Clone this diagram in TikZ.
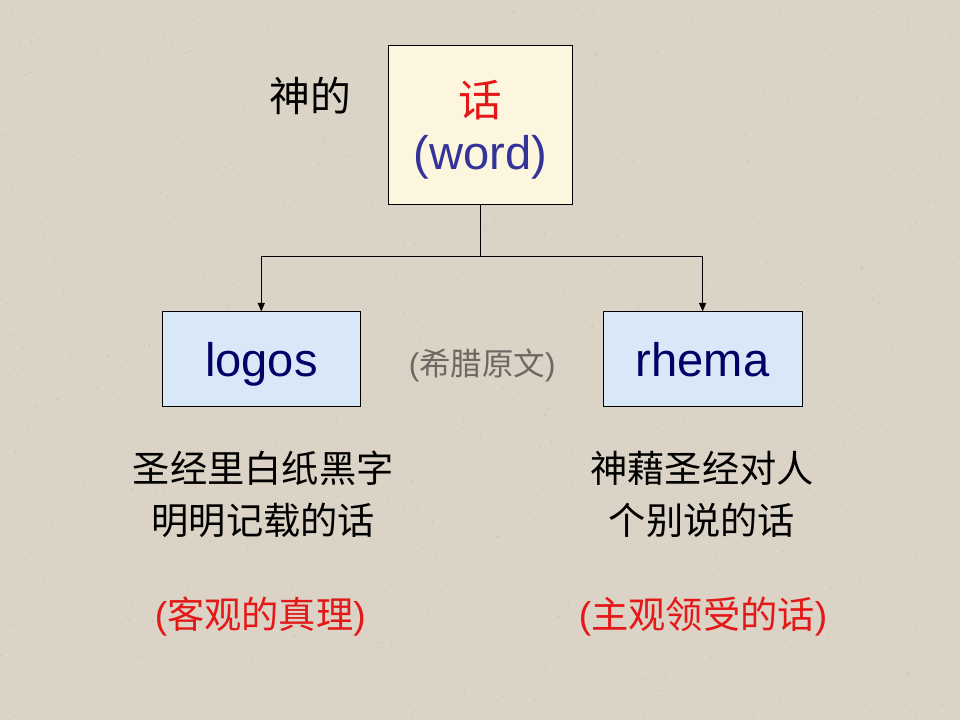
\documentclass[tikz,border=0pt]{standalone}
\usepackage{fontspec}
\setmainfont{Liberation Sans}
\newfontfamily\cjk{Noto Sans CJK SC}
\usetikzlibrary{arrows.meta}
\definecolor{paper}{RGB}{219,211,197}
\definecolor{speck}{RGB}{196,187,172}
\definecolor{cream}{RGB}{253,246,222}
\definecolor{paleblue}{RGB}{216,232,249}
\definecolor{wordred}{RGB}{228,24,24}
\definecolor{wordblue}{RGB}{51,51,153}
\definecolor{navy}{RGB}{0,0,102}
\definecolor{greytext}{RGB}{108,104,98}
\tikzset{
	termbox/.style={draw=black, line width=0.6pt, inner sep=0pt},
	termtext/.style={text=navy, font=\fontsize{33.5}{40}\selectfont, text height=25pt, text depth=0pt},
	link/.style={line width=0.6pt, -{Triangle[length=6pt,width=5pt]}},
	note/.style={font=\cjk\fontsize{26.5}{32}\selectfont, align=center}
}

\begin{document}
\begin{tikzpicture}[x=0.025cm, y=-0.025cm]
		%%%%% START %%%%%
		
		\fill[paper] (0, 0) rectangle (960, 720);
		\pgfmathsetseed{11}
		\foreach \i in {1,...,700}
			\fill[speck] (960*rnd, 720*rnd) circle (0.7);
		
		\node[termbox, fill=cream, minimum width=4.6cm, minimum height=3.975cm] (word) at (480, 124.5) {};
		\node[text=wordred, font=\cjk\fontsize{31}{36}\selectfont] (wordzh) at (480, 100) {话};
		\node[text=wordblue, font=\fontsize{33.5}{40}\selectfont] (worden) at (480, 157) {(word)};
		\node[font=\cjk\fontsize{29}{34}\selectfont] (godsays) at (310, 96) {神的};
		
		\node[termbox, fill=paleblue, minimum width=4.95cm, minimum height=2.375cm, termtext] (logos) at (261, 359.5) {logos};
		\node[termbox, fill=paleblue, minimum width=4.975cm, minimum height=2.375cm, termtext] (rhema) at (702.5, 359.5) {rhema};
		\node[text=greytext, font=\fontsize{22.4}{28}\selectfont] (greek) at (482, 366) {(\cjk 希腊原文\rmfamily)};
		
		\coordinate (fork) at (480, 257);
		\draw[line width=0.6pt] (word.south) -- (fork);
		\draw[link] (fork) -| (logos.north);
		\draw[link] (fork) -| (rhema.north);
		
		\node[note] (logosnote) at (263, 494.5) {圣经里白纸黑字\\[5pt]明明记载的话};
		\node[note, text=wordred] (logostag) at (260, 617) {{\rmfamily(}客观的真理{\rmfamily)}};
		
		\node[note] (rhemanote) at (702, 494.5) {神藉圣经对人\\[5pt]个别说的话};
		\node[note, text=wordred] (rhematag) at (703, 617) {{\rmfamily(}主观领受的话{\rmfamily)}};
		
		%%%%% END %%%%%
\end{tikzpicture}
\end{document}
